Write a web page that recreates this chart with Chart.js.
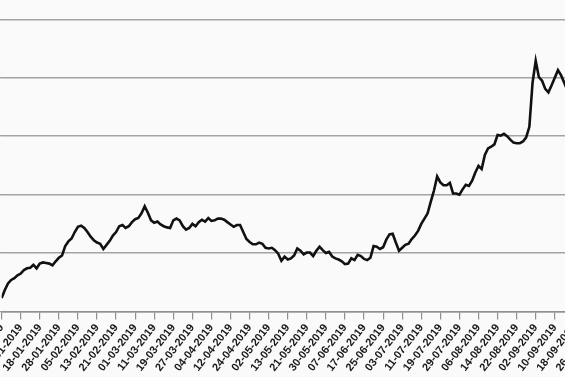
<!DOCTYPE html>
<html>
<head>
<meta charset="utf-8">
<script src="https://cdn.jsdelivr.net/npm/chart.js@4"></script>
<style>
  html, body { margin: 0; padding: 0; background: #fafafa; overflow: hidden; width: 565px; height: 377px; }
  #myChart { position: absolute; left: 0; top: 0; display: block; }
</style>
</head>
<body>
<canvas id="myChart" width="700" height="377"></canvas>
<script>
// one label every 6 trading days
const tickLabels = [
  "02-01-2019", "10-01-2019", "18-01-2019", "28-01-2019", "05-02-2019", "13-02-2019",
  "21-02-2019", "01-03-2019", "11-03-2019", "19-03-2019", "27-03-2019", "04-04-2019",
  "12-04-2019", "24-04-2019", "02-05-2019", "13-05-2019", "21-05-2019", "30-05-2019",
  "07-06-2019", "17-06-2019", "25-06-2019", "03-07-2019", "11-07-2019", "19-07-2019",
  "29-07-2019", "06-08-2019", "14-08-2019", "22-08-2019", "02-09-2019", "10-09-2019",
  "18-09-2019", "26-09-2019"
]
const tickStep = 6

// daily values
const prices = [
  2.3, 3.7, 4.8, 5.4, 5.7, 6.2, 6.5, 7.1, 7.4, 7.5,
  8.0, 7.4, 8.2, 8.4, 8.3, 8.2, 7.9, 8.6, 9.2, 9.6,
  11.2, 12.0, 12.5, 13.6, 14.5, 14.7, 14.3, 13.6, 12.8, 12.2,
  11.8, 11.6, 10.7, 11.4, 12.1, 13.0, 13.6, 14.6, 14.8, 14.3,
  14.6, 15.3, 15.8, 16.0, 16.8, 18.0, 16.9, 15.6, 15.2, 15.4,
  14.9, 14.6, 14.4, 14.3, 15.6, 15.9, 15.6, 14.6, 14.0, 14.3,
  15.0, 14.6, 15.3, 15.7, 15.4, 16.0, 15.5, 15.6, 15.9, 15.9,
  15.7, 15.3, 14.9, 14.5, 14.8, 14.8, 13.6, 12.4, 11.9, 11.5,
  11.5, 11.8, 11.6, 10.9, 10.8, 10.9, 10.5, 9.9, 8.7, 9.4,
  8.9, 9.1, 9.6, 10.8, 10.4, 9.8, 10.1, 10.1, 9.5, 10.4,
  11.1, 10.5, 10.0, 10.2, 9.4, 9.1, 8.9, 8.6, 8.1, 8.2,
  9.1, 8.8, 9.7, 9.5, 9.0, 8.8, 9.2, 11.2, 11.1, 10.7,
  11.0, 12.3, 13.2, 13.3, 11.8, 10.4, 10.9, 11.4, 11.6, 12.4,
  13.0, 13.8, 15.0, 15.9, 16.8, 18.8, 20.7, 23.1, 22.1, 21.6,
  21.6, 22.0, 20.2, 20.2, 20.0, 20.9, 21.7, 21.5, 22.4, 23.8,
  24.9, 24.4, 26.8, 27.9, 28.2, 28.6, 30.2, 30.1, 30.4, 30.0,
  29.4, 28.9, 28.8, 28.8, 29.1, 29.8, 31.6, 39.1, 42.9, 40.1,
  39.5, 38.1, 37.5, 38.7, 40.0, 41.3, 40.4, 39.1, 37.8, 37.1
]

const yMin = 0
const yMax = 50
const yStep = 10
const xMax = 188

// where the plot area sits in the 565x377 frame
const AREA_LEFT = 1.7
const AREA_TOP = 18
const AREA_BOTTOM = 312
const PX_PER_DAY = 3.183

let g

window.addEventListener('DOMContentLoaded', () => {
    createGraph()
})

function createGraph(){
    const canvas = document.getElementById('myChart')
    g = new Chart(canvas.getContext('2d'), {
        type: 'line',
        data: {
            datasets: [
                {
                    data: prices.map((v, i) => ({x: i, y: v})),
                    borderColor: '#111111',
                    backgroundColor: 'rgba(0,0,0,0)',
                    borderWidth: 2.6,
                    pointRadius: 0,
                    tension: 0
                }
            ]
        },
        options: {
            responsive: false,
            maintainAspectRatio: false,
            animation: false,
            layout: { padding: 0 },
            plugins: {
                legend: { display: false },
                tooltip: { enabled: false }
            },
            scales: {
                x: {
                    type: 'linear',
                    min: 0,
                    max: xMax,
                    afterBuildTicks: (axis) => {
                        axis.ticks = tickLabels.map((_, k) => ({value: k * tickStep}))
                    },
                    ticks: {
                        autoSkip: false,
                        minRotation: 52,
                        maxRotation: 52,
                        padding: 2,
                        color: '#1a1a1a',
                        font: { family: '"Liberation Sans", Arial, sans-serif', size: 11, weight: 'bold' },
                        callback: (value) => tickLabels[Math.round(value / tickStep)]
                    },
                    grid: {
                        drawOnChartArea: false,
                        drawTicks: true,
                        tickLength: 8,
                        color: '#8f8f8f',
                        lineWidth: 1.2
                    },
                    border: { display: true, color: '#8f8f8f', width: 1.5 }
                },
                y: {
                    min: yMin,
                    max: yMax,
                    ticks: { display: false, stepSize: yStep },
                    grid: {
                        color: '#a3a3a3',
                        lineWidth: 1.4,
                        drawTicks: true,
                        tickLength: 4
                    },
                    border: { display: false }
                }
            }
        }
    })
    placeGraph(canvas)
}

// size the canvas so the plot area lands where it is in the reference frame
function placeGraph(canvas){
    const a = g.chartArea
    const newW = Math.round(g.width + xMax * PX_PER_DAY - (a.right - a.left))
    const newH = Math.round(g.height + (AREA_BOTTOM - AREA_TOP) - (a.bottom - a.top))
    g.resize(newW, newH)
    const b = g.chartArea
    canvas.style.left = (AREA_LEFT - b.left) + 'px'
    canvas.style.top = (AREA_BOTTOM - b.bottom) + 'px'
}
</script>
</body>
</html>
